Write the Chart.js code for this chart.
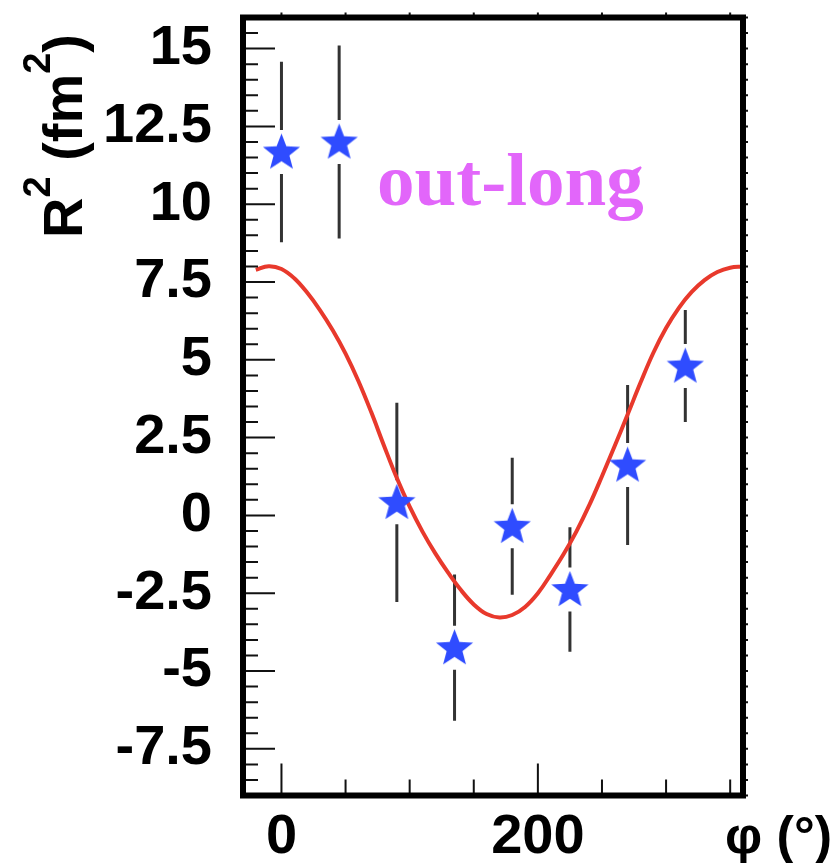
<!DOCTYPE html>
<html><head><meta charset="utf-8">
<script src="https://cdn.jsdelivr.net/npm/chart.js@4.4.1/dist/chart.umd.min.js"></script>
<style>html,body{margin:0;padding:0;background:#fff;}canvas{display:block;}</style>
</head><body>
<canvas id="c" width="836" height="863"></canvas>
<script>
// ---- data ----
const phiPoints = [0, 45, 90, 135, 180, 225, 270, 315];
const r2Values  = [11.68, 12.0, 0.42, -4.25, -0.35, -2.38, 1.62, 4.8];
const r2Errors  = [2.9, 3.1, 3.2, 2.35, 2.2, 2.0, 2.57, 1.8];

const fitPhi = [-20,-10,0,10,20,30,40,50,60,70,80,90,100,110,120,130,140,150,160,170,180,
                190,200,210,220,230,240,250,260,270,280,290,300,310,320,330,340,350,360];
const fitR2  = [7.89,8.01,7.92,7.62,7.16,6.60,5.95,5.20,4.32,3.32,2.24,1.20,0.28,-0.52,-1.22,-1.84,-2.40,-2.86,-3.17,-3.28,-3.20,
                -2.94,-2.50,-1.90,-1.25,-0.52,0.32,1.26,2.24,3.24,4.26,5.22,6.02,6.67,7.18,7.56,7.82,7.96,8.00];

const yTickValues = [-7.5, -5, -2.5, 0, 2.5, 5, 7.5, 10, 12.5, 15];
const yTickLabels = ['-7.5', '-5', '-2.5', '0', '2.5', '5', '7.5', '10', '12.5', '15'];
const xTickValues = [0, 200];
const xTickLabels = ['0', '200'];

const yTitleParts = [{t:'R'}, {t:'2', sup:true}, {t:' (fm'}, {t:'2', sup:true}, {t:')'}];
const xTitle = 'φ (°)';
const panelLabel = 'out-long';

// ---- styling ----
const FONT = '"Liberation Sans", Arial, Helvetica, sans-serif';
const STAR_COLOR = '#2f4cff';
const FIT_COLOR = '#e8392c';
const LABEL_COLOR = 'rgb(226,102,250)';

function makeStar(R, r, color) {
  const s = Math.ceil(2 * R + 2);
  const c = document.createElement('canvas');
  c.width = s; c.height = s;
  const g = c.getContext('2d');
  g.fillStyle = color;
  g.beginPath();
  for (let i = 0; i < 10; i++) {
    const ang = -Math.PI / 2 + i * Math.PI / 5;
    const rad = (i % 2) ? r : R;
    g.lineTo(s / 2 + rad * Math.cos(ang), s / 2 + 1 + rad * Math.sin(ang));
  }
  g.closePath();
  g.fill();
  return c;
}
const starImg = makeStar(19.5, 8.3, STAR_COLOR);

const errorBars = {
  id: 'errorBars',
  beforeDatasetsDraw(chart) {
    const {ctx, scales: {x, y}} = chart;
    ctx.save();
    ctx.strokeStyle = '#333';
    ctx.lineWidth = 3;
    const gap = 22;
    phiPoints.forEach((p, i) => {
      const px = x.getPixelForValue(p);
      const py = y.getPixelForValue(r2Values[i]);
      const top = y.getPixelForValue(r2Values[i] + r2Errors[i]);
      const bot = y.getPixelForValue(r2Values[i] - r2Errors[i]);
      ctx.beginPath();
      if (top < py - gap) { ctx.moveTo(px, top); ctx.lineTo(px, py - gap); }
      if (bot > py + gap) { ctx.moveTo(px, py + gap); ctx.lineTo(px, bot); }
      ctx.stroke();
    });
    ctx.restore();
  }
};

const frame = {
  id: 'frame',
  afterDatasetsDraw(chart) {
    const {ctx, chartArea: a, scales: {x, y}} = chart;
    ctx.save();
    ctx.strokeStyle = '#111';
    ctx.lineWidth = 2;
    ctx.beginPath();
    // y ticks every 0.5, major every 2.5
    for (let k = Math.ceil(y.min / 0.5); k <= Math.floor(y.max / 0.5); k++) {
      const py = y.getPixelForValue(k * 0.5);
      const len = (k % 5 === 0) ? 32 : 15;
      ctx.moveTo(a.left, py); ctx.lineTo(a.left + len, py);
      ctx.moveTo(a.right, py); ctx.lineTo(a.right + 5, py);
    }
    // x ticks every 50, major every 200
    for (let k = Math.ceil(x.min / 50); k <= Math.floor(x.max / 50); k++) {
      const px = x.getPixelForValue(k * 50);
      const len = (k % 4 === 0) ? 32 : 16;
      ctx.moveTo(px, a.bottom); ctx.lineTo(px, a.bottom - len);
      ctx.moveTo(px, a.top); ctx.lineTo(px, a.top - 5);
    }
    ctx.stroke();
    ctx.lineWidth = 6;
    ctx.strokeStyle = '#000';
    ctx.strokeRect(a.left, a.top, a.right - a.left, a.bottom - a.top);
    ctx.restore();
  }
};

const titles = {
  id: 'titles',
  afterDraw(chart) {
    const {ctx} = chart;
    ctx.save();
    ctx.fillStyle = '#000';
    ctx.textBaseline = 'alphabetic';
    ctx.textAlign = 'left';
    // y title, rotated
    ctx.save();
    ctx.translate(82, 238);
    ctx.rotate(-Math.PI / 2);
    let cx = 0;
    for (const seg of yTitleParts) {
      ctx.font = seg.sup ? 'bold 38px ' + FONT : 'bold 56px ' + FONT;
      ctx.fillText(seg.t, cx, seg.sup ? -32 : 0);
      cx += ctx.measureText(seg.t).width;
    }
    ctx.restore();
    // x title
    ctx.font = 'bold 52px ' + FONT;
    ctx.textAlign = 'right';
    ctx.fillText(xTitle, 832, 853);
    // panel label
    ctx.font = 'bold 75px "Liberation Serif", "Times New Roman", serif';
    ctx.textAlign = 'left';
    ctx.fillStyle = LABEL_COLOR;
    ctx.fillText(panelLabel, 377, 205);
    ctx.restore();
  }
};

function noPad(s) { s.paddingTop = 0; s.paddingBottom = 0; s.paddingLeft = 0; s.paddingRight = 0; }

new Chart(document.getElementById('c'), {
  type: 'scatter',
  data: {
    datasets: [
      {
        label: 'data',
        data: phiPoints.map((p, i) => ({x: p, y: r2Values[i]})),
        pointStyle: starImg,
        pointRadius: 10,
        showLine: false
      },
      {
        label: 'fit',
        data: fitPhi.map((p, i) => ({x: p, y: fitR2[i]})),
        showLine: true,
        borderColor: FIT_COLOR,
        borderWidth: 4,
        pointRadius: 0,
        tension: 0.4,
        fill: false
      }
    ]
  },
  options: {
    responsive: false,
    animation: false,
    events: [],
    layout: {padding: {top: 17.5, right: 93, left: 0, bottom: 0}},
    plugins: {legend: {display: false}, tooltip: {enabled: false}},
    scales: {
      x: {
        type: 'linear', min: -30, max: 360,
        grid: {display: false, drawTicks: false},
        border: {display: false},
        afterBuildTicks: s => { s.ticks = xTickValues.map(v => ({value: v})); },
        afterFit: s => { s.height = 67.5; noPad(s); },
        ticks: {
          autoSkip: false, maxRotation: 0, minRotation: 0, padding: 14, color: '#000',
          font: {family: FONT, weight: 'bold', size: 56, lineHeight: 1},
          callback: (v, i) => xTickLabels[i]
        }
      },
      y: {
        type: 'linear', min: -9, max: 16,
        grid: {display: false, drawTicks: false},
        border: {display: false},
        afterBuildTicks: s => { s.ticks = yTickValues.map(v => ({value: v})); },
        afterFit: s => { s.width = 243; noPad(s); },
        ticks: {
          autoSkip: false, padding: 31, color: '#000',
          font: {family: FONT, weight: 'bold', size: 56, lineHeight: 1},
          callback: (v, i) => yTickLabels[i]
        }
      }
    }
  },
  plugins: [errorBars, frame, titles]
});
</script>
</body></html>
